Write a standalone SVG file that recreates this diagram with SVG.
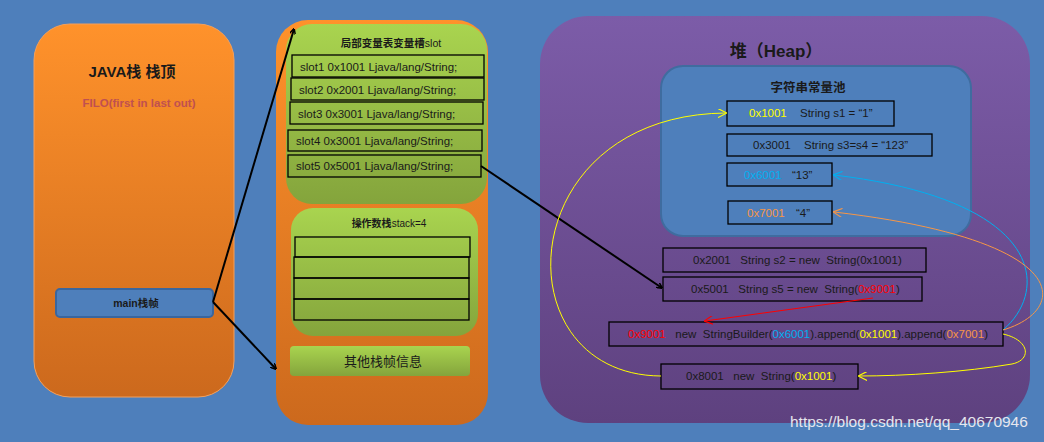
<svg xmlns="http://www.w3.org/2000/svg" width="1044" height="442" viewBox="0 0 1044 442">
<defs>
<linearGradient id="gOrange" x1="0" y1="0" x2="0" y2="1"><stop offset="0" stop-color="#FF922B"/><stop offset="1" stop-color="#CC691D"/></linearGradient>
<linearGradient id="gGreen" x1="0" y1="0" x2="0" y2="1"><stop offset="0" stop-color="#A9D44F"/><stop offset="1" stop-color="#84A43C"/></linearGradient>
<linearGradient id="gPurple" x1="0" y1="0" x2="0" y2="1"><stop offset="0" stop-color="#7C5CA8"/><stop offset="1" stop-color="#5E417F"/></linearGradient>
<marker id="aBlack" viewBox="0 0 10 10" refX="9" refY="5" markerWidth="6" markerHeight="6" orient="auto" markerUnits="userSpaceOnUse"><path d="M0,0 L10,5 L0,10" fill="none" stroke="#000" stroke-width="2.5"/></marker>
<marker id="aRed" viewBox="0 0 10 10" refX="9" refY="5" markerWidth="9" markerHeight="9" orient="auto" markerUnits="userSpaceOnUse"><path d="M0,0 L10,5 L0,10" fill="none" stroke="#FF0000" stroke-width="1.3"/></marker>
<marker id="aYellow" viewBox="0 0 10 10" refX="9" refY="5" markerWidth="9" markerHeight="9" orient="auto" markerUnits="userSpaceOnUse"><path d="M0,0 L10,5 L0,10" fill="none" stroke="#FFFF00" stroke-width="1.3"/></marker>
<marker id="aCyan" viewBox="0 0 10 10" refX="9" refY="5" markerWidth="9" markerHeight="9" orient="auto" markerUnits="userSpaceOnUse"><path d="M0,0 L10,5 L0,10" fill="none" stroke="#00B0F0" stroke-width="1.3"/></marker>
<marker id="aOrange" viewBox="0 0 10 10" refX="9" refY="5" markerWidth="9" markerHeight="9" orient="auto" markerUnits="userSpaceOnUse"><path d="M0,0 L10,5 L0,10" fill="none" stroke="#F79646" stroke-width="1.3"/></marker>
</defs>
<style>
text{font-family:"Liberation Sans","Noto Sans CJK SC",sans-serif;fill:#1a1a1a;white-space:pre}
.b{font-weight:bold}
.box{fill:none;stroke:#000;stroke-width:1.3}
.slot{font-size:11.5px}
.h{font-size:11.5px}
.y{fill:#FFFF00}.c{fill:#00B0F0}.o{fill:#F79646}.r{fill:#FF0000}
.conn path{fill:none}
</style>
<rect x="0" y="0" width="1044" height="442" fill="#4E7FBB"/>

<g id="java-stack">
<rect x="34" y="24" width="200" height="373" rx="36" fill="url(#gOrange)" stroke="#F5A05A" stroke-width="1"/>
<text class="b" x="132" y="77" font-size="15" text-anchor="middle">JAVA栈 栈顶</text>
<text class="b" x="139" y="107" font-size="11.5" text-anchor="middle" style="fill:#C05050">FILO(first in last out)</text>
</g>
<g id="main-frame">
<rect x="56" y="289" width="157" height="28" rx="4" fill="#4E7FBB" stroke="#3A669E" stroke-width="2"/>
<text class="b" x="136" y="307" font-size="10.5" text-anchor="middle">main栈帧</text>
</g>

<g id="frame">
<rect x="276" y="20" width="212" height="405" rx="32" fill="url(#gOrange)"/>
</g>
<g id="local-vars">
<rect x="286" y="24" width="201" height="180" rx="26" fill="url(#gGreen)"/>
<text class="b" x="391" y="47" font-size="10.5" text-anchor="middle">局部变量表变量槽<tspan font-weight="normal">slot</tspan></text>
<rect class="box" x="292" y="55" width="192" height="22"/>
<text class="slot" x="300" y="71">slot1 0x1001 Ljava/lang/String;</text>
<rect class="box" x="291" y="78" width="193" height="22"/>
<text class="slot" x="299" y="94">slot2 0x2001 Ljava/lang/String;</text>
<rect class="box" x="290" y="102" width="193" height="22"/>
<text class="slot" x="298" y="118">slot3 0x3001 Ljava/lang/String;</text>
<rect class="box" x="288" y="130" width="194" height="21"/>
<text class="slot" x="296" y="145">slot4 0x3001 Ljava/lang/String;</text>
<rect class="box" x="288" y="155" width="193" height="22"/>
<text class="slot" x="296" y="170">slot5 0x5001 Ljava/lang/String;</text>
</g>
<g id="operand-stack">
<rect x="291" y="208" width="187" height="128" rx="22" fill="url(#gGreen)"/>
<text class="b" x="389" y="227" font-size="10" text-anchor="middle">操作数栈<tspan font-weight="normal">stack=4</tspan></text>
<rect class="box" x="295" y="237" width="175" height="20"/>
<rect class="box" x="294" y="257" width="175" height="21"/>
<rect class="box" x="294" y="278" width="175" height="21"/>
<rect class="box" x="294" y="299" width="175" height="21"/>
</g>
<g id="other-info">
<rect x="290" y="346" width="180" height="30" rx="4" fill="url(#gGreen)"/>
<text x="383" y="366" font-size="13" text-anchor="middle">其他栈帧信息</text>
</g>

<g id="heap">
<rect x="540" y="16" width="490" height="407" rx="48" fill="url(#gPurple)"/>
<text class="b" x="776" y="57" font-size="17" text-anchor="middle">堆（Heap）</text>
</g>
<g id="string-pool">
<rect x="661" y="66" width="310" height="170" rx="22" fill="#4E7FBB" stroke="#3F6C9F" stroke-width="2"/>
<text class="b" x="808" y="92" font-size="12.5" text-anchor="middle">字符串常量池</text>
</g>
<g id="s1">
<rect class="box" x="727" y="101" width="167" height="25"/>
<text class="h y" x="749" y="117">0x1001</text>
<text class="h" x="800" y="117">String s1 = “1”</text>
</g>
<g id="s3">
<rect class="box" x="727" y="134" width="205" height="22"/>
<text class="h" x="753" y="149">0x3001</text>
<text class="h" x="804" y="149">String s3=s4 = “123”</text>
</g>
<g id="c13">
<rect class="box" x="727" y="163" width="105" height="23"/>
<text class="h c" x="744" y="179">0x6001</text>
<text class="h" x="792" y="179">“13”</text>
</g>
<g id="c4">
<rect class="box" x="728" y="201" width="104" height="23"/>
<text class="h o" x="747" y="217">0x7001</text>
<text class="h" x="796" y="217">“4”</text>
</g>
<g id="s2">
<rect class="box" x="663" y="248" width="263" height="24"/>
<text class="h" x="693" y="264">0x2001   String s2 = new  String(0x1001)</text>
</g>
<g id="s5">
<rect class="box" x="663" y="277" width="259" height="24"/>
<text class="h" x="691" y="293">0x5001   String s5 = new  String(<tspan class="r">0x9001</tspan>)</text>
</g>
<g id="sb">
<rect class="box" x="609" y="322" width="394" height="24"/>
<text class="h" x="628" y="338"><tspan class="r">0x9001</tspan>   new  StringBuilder(<tspan class="c">0x6001</tspan>).append(<tspan class="y">0x1001</tspan>).append(<tspan class="o">0x7001</tspan>)</text>
</g>
<g id="s8">
<rect class="box" x="661" y="364" width="197" height="25"/>
<text class="h" x="686" y="380">0x8001   new  String(<tspan class="y">0x1001</tspan>)</text>
</g>

<g id="connectors" class="conn">
<path d="M213,302 L294,29" stroke="#000" stroke-width="2" marker-end="url(#aBlack)"/>
<path d="M213,302 L276,369" stroke="#000" stroke-width="2" marker-end="url(#aBlack)"/>
<path d="M481,166 L662,288" stroke="#000" stroke-width="2" marker-end="url(#aBlack)"/>
<path d="M873,298 L705,321" stroke="#FF0000" stroke-width="1" marker-end="url(#aRed)"/>
<path d="M661,376 C500,375 510,115 726,113" stroke="#FFFF00" stroke-width="1" marker-end="url(#aYellow)"/>
<path d="M1003,330 C1050,290 1045,200 834,175" stroke="#00B0F0" stroke-width="1" marker-end="url(#aCyan)"/>
<path d="M1003,330 C1070,310 1075,240 834,212" stroke="#F79646" stroke-width="1" marker-end="url(#aOrange)"/>
<path d="M1003,334 C1030,340 1032,360 1012,364 C965,372 905,376 859,376" stroke="#FFFF00" stroke-width="1" marker-end="url(#aYellow)"/>
</g>

<text x="790" y="427" font-size="15.5" style="fill:#E6E6EE">https://blog.csdn.net/qq_40670946</text>
</svg>
